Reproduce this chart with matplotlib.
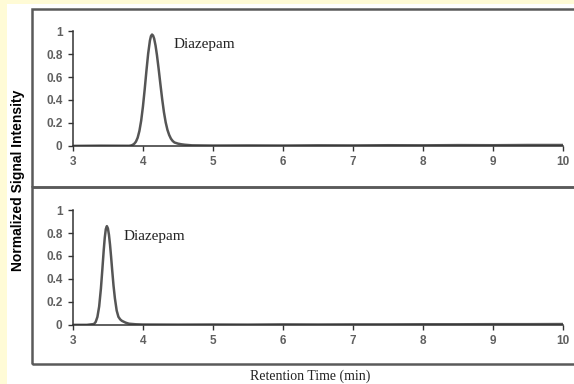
import matplotlib.pyplot as plt
from matplotlib.patches import Rectangle

# chromatogram 1 (top panel)
t1 = [3.0, 3.4, 3.8, 3.825, 3.85, 3.875, 3.9, 3.925, 3.95, 3.975, 4.0, 4.025, 4.05,
      4.075, 4.1, 4.115, 4.13, 4.145, 4.16, 4.18, 4.2, 4.225, 4.25, 4.275, 4.3, 4.325,
      4.35, 4.375, 4.4, 4.425, 4.45, 4.5, 4.55, 4.6, 4.7, 5.0, 5.5, 6.0, 6.5, 7.0, 7.5,
      8.0, 8.5, 9.0, 9.5, 10.0]
s1 = [0.0, 0.002, 0.001, 0.003, 0.008, 0.018, 0.037, 0.072, 0.131, 0.220, 0.342, 0.491,
      0.654, 0.805, 0.918, 0.957, 0.97, 0.961, 0.935, 0.875, 0.792, 0.668, 0.535, 0.407,
      0.294, 0.205, 0.14, 0.095, 0.063, 0.043, 0.03, 0.02, 0.014, 0.01, 0.005, 0.003,
      0.004, 0.003, 0.005, 0.004, 0.006, 0.005, 0.007, 0.006, 0.008, 0.008]

# chromatogram 2 (bottom panel)
t2 = [3.0, 3.2, 3.3, 3.325, 3.35, 3.375, 3.4, 3.42, 3.44, 3.455, 3.47, 3.485, 3.5,
      3.515, 3.53, 3.545, 3.56, 3.58, 3.6, 3.625, 3.65, 3.675, 3.7, 3.75, 3.8, 3.9,
      4.0, 4.5, 5.0, 5.5, 6.0, 6.5, 7.0, 7.5, 8.0, 8.5, 9.0, 9.5, 10.0]
s2 = [0.0, 0.0, 0.007, 0.025, 0.069, 0.160, 0.316, 0.478, 0.649, 0.759, 0.834, 0.86,
      0.84, 0.784, 0.699, 0.596, 0.484, 0.342, 0.23, 0.125, 0.07, 0.048, 0.035, 0.02,
      0.01, 0.005, 0.003, 0.002, 0.003, 0.002, 0.004, 0.003, 0.004, 0.004, 0.005,
      0.005, 0.006, 0.006, 0.007]

x_ticks = [3, 4, 5, 6, 7, 8, 9, 10]
y_ticks = [0, 0.2, 0.4, 0.6, 0.8, 1]
y_tick_labels = ["0", "0.2", "0.4", "0.6", "0.8", "1"]
peak_name = "Diazepam"

fig = plt.figure(figsize=(5.74, 3.84), dpi=100, facecolor="#FFFBD6")

# white page area and the two panel boxes
fig.patches.append(Rectangle((7 / 574, 0), 1, 1 - 4 / 384, transform=fig.transFigure,
                             facecolor="white", edgecolor="none", zorder=-5))
for top, bottom in [(9, 187), (187, 364)]:
    fig.patches.append(Rectangle((32 / 574, 1 - bottom / 384), 1, (bottom - top) / 384,
                                 transform=fig.transFigure, facecolor="none",
                                 edgecolor="#5a5a5a", linewidth=1.8, zorder=-4))

ax1 = fig.add_axes([0.127, 0.620, 0.854, 0.299])
ax2 = fig.add_axes([0.127, 0.154, 0.854, 0.299])

for ax, t, s, lx, ly in [(ax1, t1, s1, 4.43, 0.88), (ax2, t2, s2, 3.73, 0.77)]:
    ax.set_facecolor("none")
    ax.plot(t, s, color="#555555", linewidth=1.8, solid_joinstyle="round")
    ax.set_xlim(3, 10)
    ax.set_ylim(0, 1)
    ax.set_xticks(x_ticks)
    ax.set_yticks(y_ticks)
    ax.set_yticklabels(y_tick_labels)
    for side in ["top", "right"]:
        ax.spines[side].set_visible(False)
    for side in ["left", "bottom"]:
        ax.spines[side].set_color("#333333")
        ax.spines[side].set_linewidth(1.1)
    ax.tick_params(direction="out", length=3.5, width=1, color="#333333", pad=4,
                   labelsize=8.5, labelcolor="#606060")
    for lab in ax.get_xticklabels() + ax.get_yticklabels():
        lab.set_fontfamily("Liberation Sans")
        lab.set_fontweight("bold")
    ax.text(lx, ly, peak_name, family="Liberation Serif", fontsize=11,
            color="#222222", va="center", ha="left")

fig.text(0.031, 0.531, "Normalized Signal Intensity", rotation=90, ha="center",
         va="center", family="Liberation Sans", fontweight="bold", fontsize=10)
fig.text(0.54, 0.021, "Retention Time (min)", ha="center", va="center",
         family="Liberation Serif", fontsize=10, color="#222222")

fig.savefig("out.png", dpi=100, facecolor=fig.get_facecolor())
